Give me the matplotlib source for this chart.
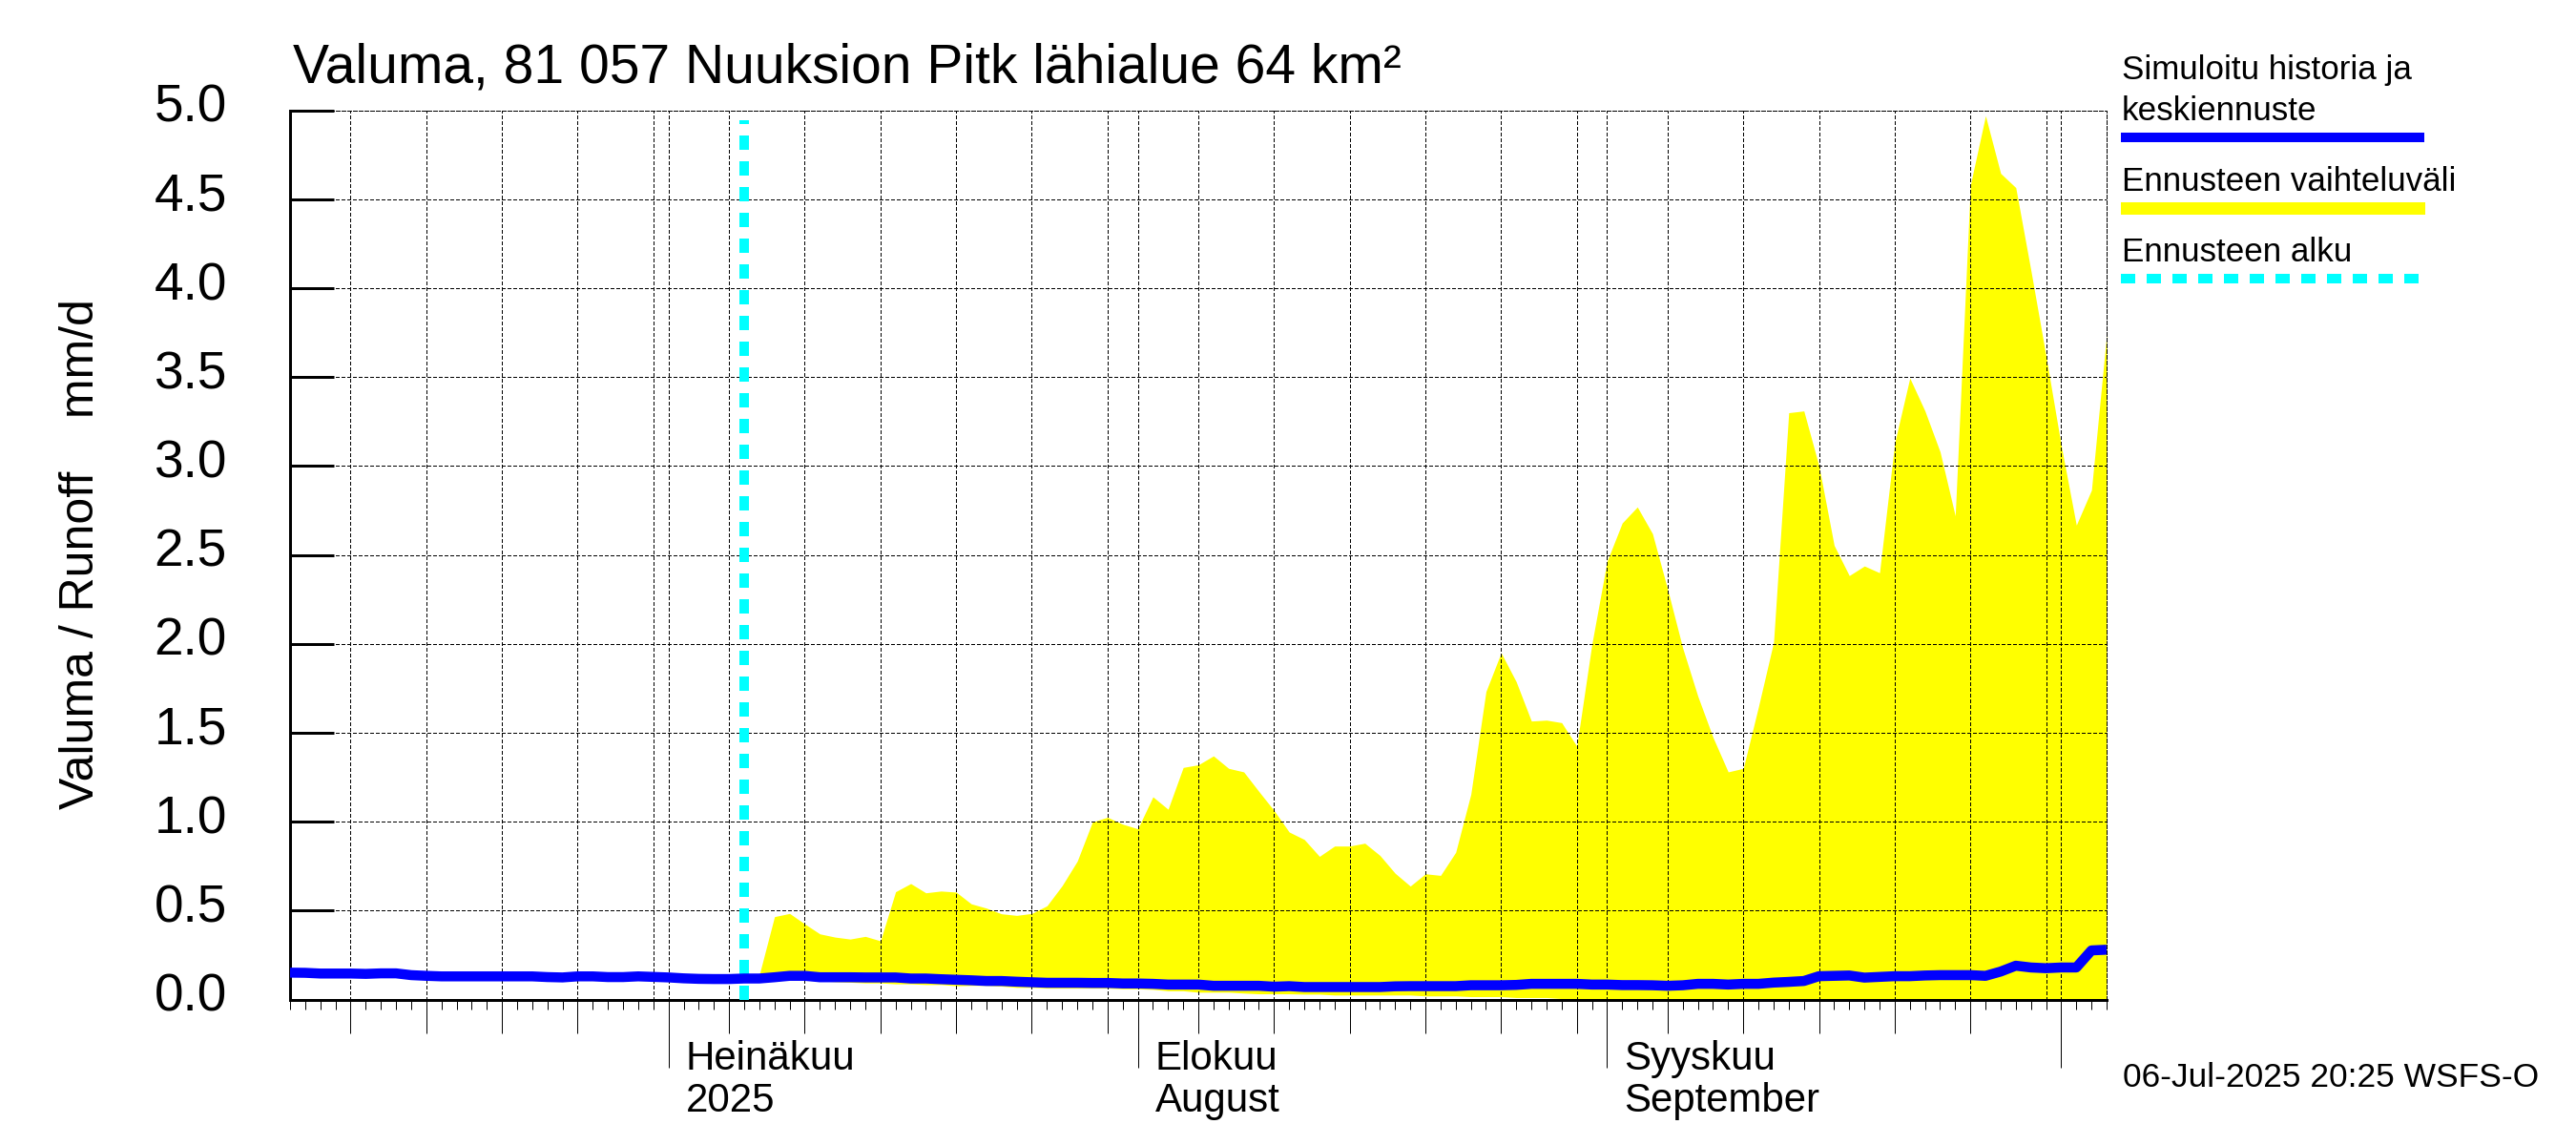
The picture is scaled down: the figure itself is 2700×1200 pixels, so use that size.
import matplotlib
matplotlib.use("Agg")
import matplotlib.pyplot as plt
import matplotlib.dates as mdates
from matplotlib.lines import Line2D
from matplotlib.transforms import ScaledTranslation
import pandas as pd

plt.rcParams['font.family'] = ['Liberation Sans', 'DejaVu Sans']
plt.rcParams['lines.scale_dashes'] = False

W, H, DPI = 2700, 1200, 100
PX = 72 / DPI

title = "Valuma, 81 057 Nuuksion Pitk lähialue 64 km²"
ylabel_text = "Valuma / Runoff    mm/d"
stamp = "06-Jul-2025 20:25 WSFS-O"
legend_labels = ["Simuloitu historia ja\nkeskiennuste", "Ennusteen vaihteluväli", "Ennusteen alku"]
y_ticks = [0.0, 0.5, 1.0, 1.5, 2.0, 2.5, 3.0, 3.5, 4.0, 4.5, 5.0]
month_starts = ["2025-07-01", "2025-08-01", "2025-09-01", "2025-10-01"]
month_line1 = ["Heinäkuu", "Elokuu", "Syyskuu"]
month_line2 = ["2025", "August", "September"]
grid_days = ["2025-06-10", "2025-06-15", "2025-06-20", "2025-06-25", "2025-06-30",
             "2025-07-01", "2025-07-05", "2025-07-10", "2025-07-15", "2025-07-20", "2025-07-25", "2025-07-30",
             "2025-08-01", "2025-08-05", "2025-08-10", "2025-08-15", "2025-08-20", "2025-08-25", "2025-08-30",
             "2025-09-01", "2025-09-05", "2025-09-10", "2025-09-15", "2025-09-20", "2025-09-25", "2025-09-30",
             "2025-10-01"]
short_grid_days = ["2025-06-30", "2025-09-30"]
forecast_start = "2025-07-06"
axis_start = "2025-06-06"
axis_end = "2025-10-04"

# simulated history + mean forecast, one value a day from 6 June
sim_mean = [
    .151, .150, .146, .146, .146, .144, .147, .147, .137, .133, .130, .130, .130, .130, .130, .130, .130,
    .126, .124, .130, .130, .126, .126, .130, .127,
    .124, .119, .116, .115, .115, .118,
    .118, .125, .133, .133, .125, .125, .125, .124, .124, .124, .118, .118, .114, .111, .108, .104,
    .104, .100, .097, .094, .094, .094, .093, .093, .090, .090,
    .088, .084, .084, .084, .077, .077, .077, .077, .072, .075, .070, .070, .070, .070, .070, .070,
    .074, .075, .075, .075, .075, .080, .080, .080, .082, .088, .088, .088, .088, .084, .084,
    .081, .081, .080, .077, .080, .088, .088, .084, .088, .088, .095, .099, .104, .131, .133, .135,
    .123, .127, .131, .131, .135, .137, .137, .137, .133, .157, .190, .180, .176, .180, .180, .276, .280,
]
# forecast range, one value a day from 7 July
range_high = [
    .140, .466, .484, .425, .369, .351, .340, .355, .330, .606, .652, .600, .610, .604, .538, .514, .482,
    .473, .484, .527, .640, .778, .998, 1.025, .986, .960, 1.140, 1.070, 1.305, 1.320, 1.370, 1.300, 1.280,
    1.170, 1.063, .942, .900, .805, .863, .863, .879, .810, .710, .638, .707, .698, .828, 1.154, 1.732,
    1.950, 1.787, 1.566, 1.571, 1.557, 1.425, 2.000, 2.465, 2.680, 2.770, 2.620, 2.307, 1.976, 1.705,
    1.474, 1.280, 1.300, 1.646, 2.010, 3.300, 3.310, 3.000, 2.554, 2.384, 2.438, 2.400, 3.130, 3.495,
    3.310, 3.080, 2.720, 4.580, 4.970, 4.646, 4.566, 4.100, 3.617, 3.116, 2.668, 2.865, 3.740,
]
range_low = [
    .118, .115, .115, .112, .105, .100, .097, .093, .093, .088, .088, .084, .084, .077, .079, .079, .075,
    .068, .068, .064, .064, .064, .064, .064, .060, .060, .057, .049, .049, .041, .041, .041, .036,
    .032, .032, .032, .030, .030, .025, .025, .025, .025, .025, .025, .020, .020, .020, .016, .016,
    .016, .011, .011, .011, .005, .005, .005, 0, 0, 0, 0, 0, 0, 0,
    0, 0, 0, 0, 0, 0, 0, 0, 0, 0, 0, 0, 0, 0,
    0, 0, 0, 0, 0, 0, 0, 0, 0, 0, 0, 0, 0,
]

sim_days = pd.date_range(axis_start, periods=len(sim_mean), freq="D")
range_days = pd.date_range(forecast_start, periods=len(range_high) + 1, freq="D")[1:]


def fx(px):
    return px / W


def fy(py):
    return 1 - py / H


def put(px, py, s, size_px, **kw):
    return fig.text(fx(px), fy(py), s, fontsize=size_px * PX, va='baseline', color='black', **kw)


fig = plt.figure(figsize=(W / DPI, H / DPI), dpi=DPI, facecolor='white')
ax = fig.add_axes([fx(304), fy(1047.5), fx(2208 - 304), (1047.5 - 115.7) / H])

ax.fill_between(range_days, range_low, range_high, color='#FFFF00', lw=0, antialiased=False, zorder=1)
ax.axvline(pd.Timestamp(forecast_start), ymin=0, ymax=0.989, color='#00FFFF', lw=10 * PX,
           ls=(0, (15 * PX, 13 * PX)), dash_capstyle='butt', antialiased=False, zorder=3)
ax.plot(sim_days, sim_mean, color='#0000FF', lw=10.5 * PX, solid_joinstyle='round', solid_capstyle='butt', zorder=4)

ax.set_xlim(pd.Timestamp(axis_start), pd.Timestamp(axis_end))
ax.set_ylim(0, 5)
ax.set_axisbelow(False)

grid_dash = (0, (4 * PX, 2.6 * PX))
ax.set_yticks(y_ticks)
ax.set_yticklabels([f"{v:.1f}" for v in y_ticks], fontsize=55 * PX)
ax.tick_params(axis='y', direction='in', length=46 * PX, width=3 * PX, pad=66 * PX)
for lab in ax.get_yticklabels():
    lab.set_verticalalignment('baseline')
    lab.set_transform(lab.get_transform() + ScaledTranslation(0, -12 / DPI, fig.dpi_scale_trans))

ax.set_xticks(pd.to_datetime(grid_days))
ax.xaxis.set_minor_locator(mdates.DayLocator())
ax.set_xticklabels([])
ax.tick_params(axis='x', which='minor', direction='out', length=10 * PX, width=1 * PX)
ax.tick_params(axis='x', which='major', direction='out', length=35 * PX, width=1 * PX)
ax.grid(True, axis='both', which='major', color='black', lw=1 * PX, ls=grid_dash, antialiased=False, zorder=2)
for tick, day in zip(ax.xaxis.get_major_ticks(), grid_days):
    if day in month_starts:
        tick.tick1line.set_markersize(71 * PX)
    elif day in short_grid_days:
        tick.tick1line.set_markersize(10 * PX)

for side in ['top', 'right']:
    ax.spines[side].set_linewidth(1 * PX)
    ax.spines[side].set_linestyle(grid_dash)
    ax.spines[side].set_antialiased(False)
ax.spines['left'].set_linewidth(3 * PX)
ax.spines['bottom'].set_linewidth(3 * PX)

put(307, 87, title, 57)
fig.text(fx(85), fy(581), ylabel_text, fontsize=50 * PX, rotation=90, ha='center', va='center', color='black')

for day, top, bottom in zip(month_starts, month_line1, month_line2):
    px = 304 + (pd.Timestamp(day) - pd.Timestamp(axis_start)).days * (2208 - 304) / 120 + 18
    put(px, 1121, top, 42)
    put(px, 1165, bottom, 42)

put(2225, 1139, stamp, 35.4)

first, second = legend_labels[0].split("\n")
put(2224, 83, first, 35)
put(2224, 126, second, 35)
put(2224, 200, legend_labels[1], 35)
put(2224, 274, legend_labels[2], 35)


def key(py, color, lw_px, **kw):
    fig.add_artist(Line2D([fx(2223), fx(2541)], [fy(py), fy(py)], color=color, lw=lw_px * PX,
                          solid_capstyle='butt', dash_capstyle='butt', antialiased=False, **kw))


key(144, '#0000FF', 10)
key(217.5, '#FFFF00', 13)
key(292, '#00FFFF', 10, ls=(0, (15 * PX, 13 * PX)))

fig.savefig("out.png", dpi=DPI)
